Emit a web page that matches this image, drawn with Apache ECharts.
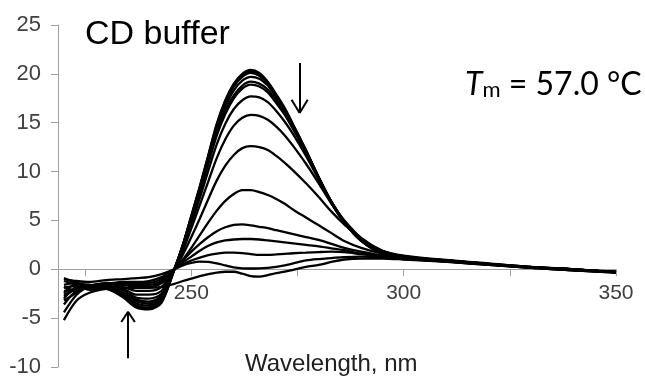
<!DOCTYPE html>
<html>
<head>
<meta charset="utf-8">
<script src="https://cdn.jsdelivr.net/npm/echarts@6/dist/echarts.min.js"></script>
<style>
html,body{margin:0;padding:0;background:#fff;}
#chart{width:645px;height:381px;}
</style>
</head>
<body>
<div id="chart"></div>
<script>
// Wavelength grid (nm)
const wavelengths = [220, 223, 226, 230, 234, 237, 240, 243, 246, 248, 250, 252, 254, 256, 258, 260, 262, 264, 266, 268, 270, 272, 274, 277, 280, 283, 286, 290, 295, 300, 310, 320, 330, 340, 350];

// CD spectra (mdeg) at increasing temperature
const curve01 = [-2.4, -1.5, -1.6, -1.9, -2.9, -3.9, -4.1, -3.4, 0.0, 2.5, 5.5, 8.5, 11.7, 14.9, 17.3, 19.0, 20.0, 20.4, 20.1, 19.2, 17.9, 16.5, 14.8, 12.2, 9.4, 6.8, 4.8, 2.9, 1.6, 1.2, 0.85, 0.5, 0.2, -0.05, -0.3];
const curve02 = [-3.0, -1.8, -1.7, -1.8, -2.8, -3.8, -4.0, -3.3, 0.0, 2.5, 5.4, 8.4, 11.6, 14.8, 17.2, 18.9, 19.9, 20.25, 19.95, 19.1, 17.8, 16.4, 14.7, 12.1, 9.4, 6.8, 4.8, 2.9, 1.6, 1.2, 0.8, 0.5, 0.15, -0.1, -0.35];
const curve03 = [-1.6, -1.4, -1.8, -2.0, -2.7, -3.7, -3.9, -3.2, 0.0, 2.5, 5.4, 8.4, 11.5, 14.6, 17.0, 18.7, 19.7, 20.1, 19.8, 19.0, 17.7, 16.3, 14.7, 12.1, 9.3, 6.8, 4.8, 2.9, 1.6, 1.2, 0.8, 0.45, 0.15, -0.1, -0.25];
const curve04 = [-2.8, -2.0, -1.6, -1.7, -2.6, -3.5, -3.7, -3.0, 0.0, 2.4, 5.3, 8.2, 11.3, 14.3, 16.6, 18.3, 19.3, 19.7, 19.5, 18.8, 17.6, 16.2, 14.6, 12.1, 9.4, 6.9, 4.9, 3.0, 1.7, 1.2, 0.85, 0.5, 0.2, -0.05, -0.3];
const curve05 = [-3.6, -2.2, -1.9, -1.8, -2.5, -3.3, -3.5, -2.9, 0.0, 2.3, 5.1, 8.0, 11.0, 13.9, 16.2, 17.8, 18.8, 19.2, 19.0, 18.4, 17.3, 16.0, 14.5, 12.0, 9.4, 6.9, 4.9, 3.0, 1.7, 1.25, 0.85, 0.5, 0.2, 0.0, -0.25];
const curve06 = [-1.9, -1.7, -2.1, -1.9, -2.4, -3.1, -3.3, -2.7, 0.0, 2.3, 5.0, 7.8, 10.8, 13.7, 15.9, 17.5, 18.5, 18.9, 18.7, 18.1, 17.0, 15.8, 14.3, 11.9, 9.3, 6.9, 4.9, 3.0, 1.7, 1.25, 0.85, 0.5, 0.2, 0.0, -0.3];
const curve07 = [-4.4, -2.6, -1.8, -1.7, -2.2, -2.9, -3.0, -2.5, 0.0, 2.1, 4.7, 7.3, 10.1, 12.8, 14.9, 16.4, 17.3, 17.7, 17.6, 17.1, 16.2, 15.1, 13.8, 11.6, 9.2, 6.9, 5.0, 3.1, 1.8, 1.3, 0.9, 0.55, 0.2, 0.0, -0.3];
const curve08 = [-2.2, -2.1, -1.9, -1.6, -2.0, -2.6, -2.6, -2.2, 0.0, 1.9, 4.2, 6.6, 9.0, 11.4, 13.3, 14.7, 15.5, 15.8, 15.7, 15.3, 14.6, 13.7, 12.6, 10.8, 8.8, 6.7, 5.0, 3.2, 1.9, 1.35, 0.9, 0.55, 0.2, 0.0, -0.3];
const curve09 = [-3.2, -2.4, -1.7, -1.5, -1.8, -2.2, -2.2, -1.8, 0.0, 1.5, 3.3, 5.2, 7.2, 9.1, 10.6, 11.7, 12.4, 12.6, 12.5, 12.2, 11.6, 10.9, 10.1, 8.8, 7.4, 5.9, 4.6, 3.1, 1.9, 1.4, 0.95, 0.6, 0.25, 0.0, -0.3];
const curve10 = [-1.2, -1.6, -1.9, -1.5, -1.6, -1.8, -1.8, -1.4, 0.0, 1.0, 2.2, 3.5, 4.8, 6.0, 7.0, 7.7, 8.1, 8.1, 7.9, 7.6, 7.2, 6.7, 6.1, 5.3, 4.5, 3.7, 2.9, 2.2, 1.6, 1.3, 0.9, 0.55, 0.25, 0.0, -0.3];
const curve11 = [-2.6, -2.0, -1.7, -1.4, -1.5, -1.6, -1.6, -1.2, 0.0, 0.9, 1.8, 2.6, 3.3, 3.9, 4.3, 4.55, 4.6, 4.5, 4.35, 4.2, 4.0, 3.8, 3.6, 3.3, 3.0, 2.6, 2.2, 1.8, 1.4, 1.2, 0.9, 0.55, 0.25, 0.0, -0.3];
const curve12 = [-0.9, -1.4, -1.8, -1.6, -1.4, -1.4, -1.4, -1.0, 0.0, 0.7, 1.3, 1.9, 2.4, 2.75, 2.95, 3.05, 3.1, 3.1, 3.05, 2.95, 2.85, 2.75, 2.65, 2.5, 2.35, 2.15, 1.95, 1.6, 1.3, 1.1, 0.85, 0.5, 0.2, 0.0, -0.3];
const curve13 = [-1.8, -2.2, -1.7, -1.5, -1.3, -1.3, -1.2, -0.8, 0.0, 0.5, 0.9, 1.2, 1.45, 1.6, 1.7, 1.7, 1.65, 1.55, 1.47, 1.47, 1.52, 1.58, 1.64, 1.7, 1.76, 1.8, 1.75, 1.55, 1.3, 1.1, 0.8, 0.5, 0.2, -0.05, -0.3];
const curve14 = [-1.0, -1.2, -1.3, -1.1, -1.0, -0.9, -0.8, -0.5, 0.0, 0.4, 0.65, 0.78, 0.75, 0.6, 0.4, 0.2, 0.1, 0.08, 0.1, 0.15, 0.25, 0.4, 0.6, 0.9, 1.05, 1.15, 1.25, 1.3, 1.2, 1.05, 0.8, 0.5, 0.2, -0.05, -0.3];
const curve15 = [-5.2, -3.2, -2.4, -2.0, -1.9, -1.9, -1.9, -1.8, -1.5, -1.2, -0.95, -0.7, -0.5, -0.35, -0.25, -0.25, -0.45, -0.7, -0.75, -0.6, -0.4, -0.25, -0.05, 0.25, 0.45, 0.75, 1.0, 1.1, 1.1, 1.0, 0.75, 0.45, 0.15, -0.1, -0.35];

const curves = [curve01, curve02, curve03, curve04, curve05, curve06, curve07, curve08, curve09, curve10, curve11, curve12, curve13, curve14, curve15];

// Axis ticks / labels
const xTickStep = 25;
const xLabelStep = 50;

// Arrow annotations in data units: [x1, y1, x2, y2]
const arrowSegments = [
  [275.5, 21.1, 275.5, 16.0], [273.6, 17.35, 275.5, 16.0], [277.4, 17.35, 275.5, 16.0],
  [235.1, -9.1, 235.1, -4.35], [233.5, -5.4, 235.1, -4.35], [236.7, -5.4, 235.1, -4.35]
];

const chart = echarts.init(document.getElementById('chart'), null, {renderer: 'canvas'});

const series = curves.map((c, k) => ({
  type: 'line',
  data: wavelengths.map((w, i) => [w, c[i]]),
  smooth: 0.3,
  showSymbol: false,
  symbol: 'none',
  lineStyle: {color: '#000', width: 2.3},
  silent: true,
  animation: false
}));

series.push({
  type: 'line',
  data: [],
  silent: true,
  markLine: {
    silent: true,
    symbol: ['none', 'none'],
    animation: false,
    label: {show: false},
    lineStyle: {color: '#000', width: 2, type: 'solid'},
    data: arrowSegments.map(s => [{coord: [s[0], s[1]]}, {coord: [s[2], s[3]]}])
  }
});

const axisFont = 'Liberation Sans, Arial, sans-serif';

chart.setOption({
  animation: false,
  backgroundColor: '#fff',
  grid: {left: 58, right: 29, top: 25, bottom: 14},
  xAxis: {
    type: 'value',
    min: 218.6,
    max: 350,
    minInterval: xTickStep,
    maxInterval: xTickStep,
    axisLine: {onZero: true, lineStyle: {color: '#a0a0a0', width: 1}},
    axisTick: {show: true, length: 7, lineStyle: {color: '#a0a0a0'}},
    axisLabel: {
      fontSize: 21, color: '#404040', fontFamily: axisFont, margin: -84,
      showMinLabel: false,
      formatter: v => (Math.abs(v % xLabelStep) < 1e-6 ? String(v) : '')
    },
    splitLine: {show: false}
  },
  yAxis: {
    type: 'value',
    min: -10,
    max: 25,
    interval: 5,
    axisLine: {show: true, lineStyle: {color: '#a0a0a0', width: 1}},
    axisTick: {show: true, length: 7, lineStyle: {color: '#a0a0a0'}},
    axisLabel: {fontSize: 22, color: '#404040', fontFamily: axisFont, margin: 17},
    splitLine: {show: false}
  },
  graphic: [
    {type: 'text', left: 85, top: 18, style: {text: 'CD buffer', font: '34px Liberation Sans, Arial, sans-serif', fill: '#000'}},
    {type: 'text', left: 245, top: 352, style: {text: 'Wavelength, nm', font: '24px Liberation Sans, Arial, sans-serif', fill: '#202020'}},
    {type: 'text', left: 465, top: 69, style: {
      text: '{t|T}{s|m}{n| = 57.0 °C}',
      rich: {
        t: {fontSize: 32, fontStyle: 'italic', fontFamily: 'Lato', fill: '#000', verticalAlign: 'bottom'},
        s: {fontSize: 22, fontFamily: 'Lato', fill: '#000', verticalAlign: 'bottom'},
        n: {fontSize: 32, fontFamily: 'Lato', fill: '#000', verticalAlign: 'bottom'}
      }
    }}
  ],
  series: series
});
</script>
</body>
</html>
